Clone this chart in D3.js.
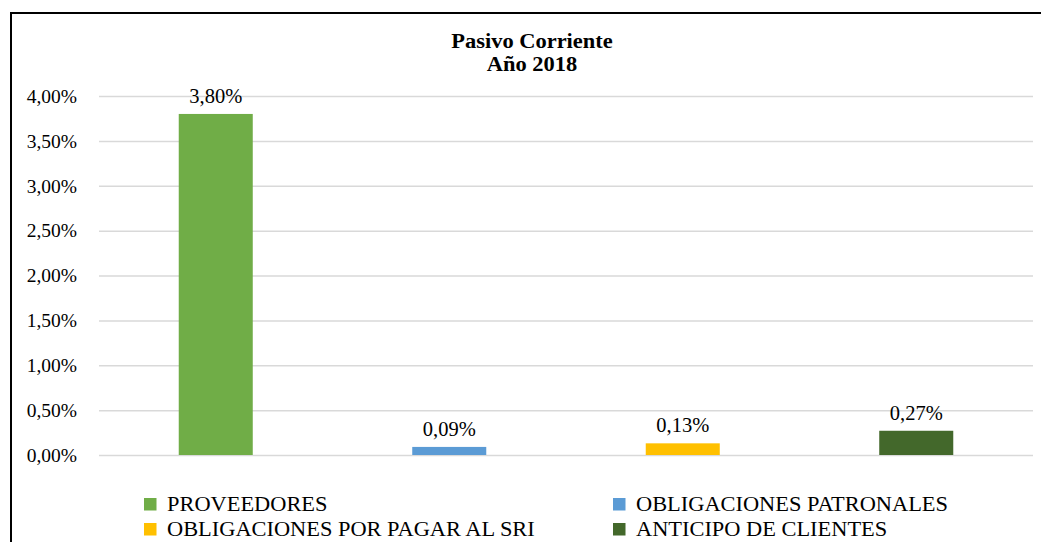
<!DOCTYPE html>
<html>
<head>
<meta charset="utf-8">
<script src="https://cdn.jsdelivr.net/npm/d3@7"></script>
<style>
  body { margin: 0; background: #fff; }
  svg { display: block; font-family: "Liberation Serif", "Times New Roman", serif; }
</style>
</head>
<body>
<svg id="chart" width="1041" height="542"></svg>
<script>
var categories = ["PROVEEDORES", "OBLIGACIONES PATRONALES", "OBLIGACIONES POR PAGAR AL SRI", "ANTICIPO DE CLIENTES"];
var values = [3.80, 0.09, 0.13, 0.27];
var colors = ["#70AD47", "#5B9BD5", "#FFC000", "#43682B"];
var yTicks = [0, 0.5, 1, 1.5, 2, 2.5, 3, 3.5, 4];
var titleLines = ["Pasivo Corriente", "Año 2018"];

var svg = d3.select("#chart");
var serif = "'Liberation Serif', 'Times New Roman', serif";

function pct(v) {
    return v.toFixed(2).replace(".", ",") + "%";
}

// chart border, runs off the right and bottom edge like the source
svg.append("rect")
    .attr("x", 11).attr("y", 13)
    .attr("width", 1100).attr("height", 600)
    .attr("fill", "none")
    .attr("stroke", "#000")
    .attr("stroke-width", 2);

svg.selectAll("g.title").data(titleLines).enter().append("g")
    .attr("class", "title")
    .attr("transform", function (d, i) { return "translate(532," + (48 + i * 23) + ") scale(1.07,1)"; })
    .append("text")
    .attr("text-anchor", "middle")
    .attr("font-weight", "bold").attr("font-size", 21)
    .style("font-family", serif)
    .text(function (d) { return d; });

var x = d3.scaleBand().domain(categories).range([99, 1033]);
var y = d3.scaleLinear().domain([0, 4]).range([455, 96]);
var barW = x.bandwidth() * 0.317;

var axis = svg.append("g")
    .attr("transform", "translate(99,0)")
    .call(d3.axisLeft(y).tickValues(yTicks).tickFormat(pct).tickSize(-934).tickPadding(22));
axis.select(".domain").remove();
axis.selectAll(".tick line").attr("stroke", "#d9d9d9").attr("stroke-width", 1.5);
axis.selectAll(".tick text")
    .attr("fill", "#000")
    .attr("font-size", 19.5)
    .style("font-family", serif);

svg.selectAll("rect.bar").data(values).enter().append("rect")
    .attr("class", "bar")
    .attr("x", function (d, i) { return x(categories[i]) + (x.bandwidth() - barW) / 2; })
    .attr("y", function (d) { return y(d); })
    .attr("width", barW)
    .attr("height", function (d) { return y(0) - y(d); })
    .attr("fill", function (d, i) { return colors[i]; });

svg.selectAll("text.lbl").data(values).enter().append("text")
    .attr("class", "lbl")
    .attr("x", function (d, i) { return x(categories[i]) + x.bandwidth() / 2; })
    .attr("y", function (d) { return y(d) - 11; })
    .attr("text-anchor", "middle")
    .attr("font-size", 20.5)
    .style("font-family", serif)
    .text(pct);

// legend, two columns
var leg = svg.selectAll("g.leg").data(categories).enter().append("g")
    .attr("class", "leg")
    .attr("transform", function (d, i) {
        return "translate(" + (i % 2 ? 613 : 144) + "," + (Math.floor(i / 2) * 25 + 498) + ")";
    });
leg.append("rect")
    .attr("width", 12.5).attr("height", 12.5)
    .attr("fill", function (d, i) { return colors[i]; });
leg.append("g")
    .attr("transform", "translate(23,13) scale(1.12,1)")
    .append("text")
    .attr("font-size", 20)
    .style("font-family", serif)
    .text(function (d) { return d; });
</script>
</body>
</html>
